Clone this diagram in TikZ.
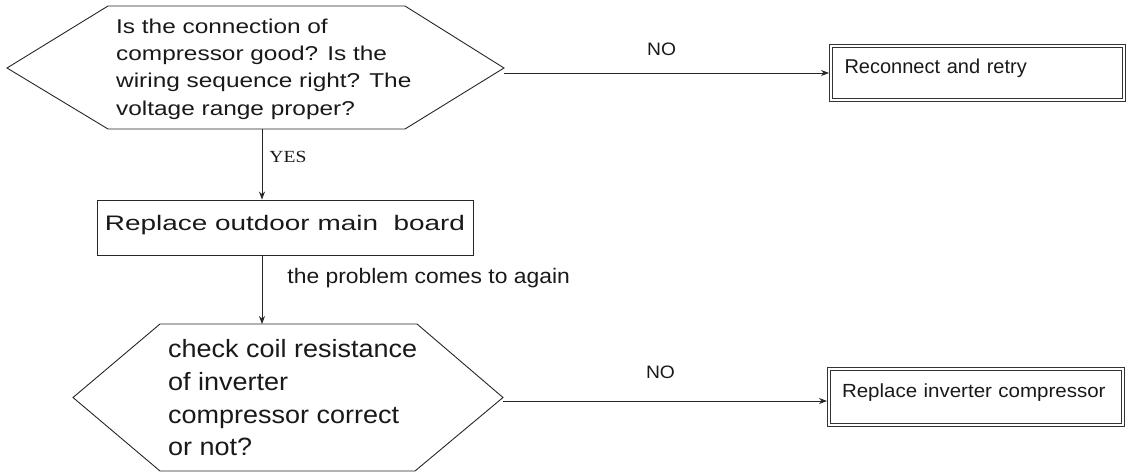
\documentclass[tikz,border=0pt]{standalone}
\usepackage{fontspec}
\setmainfont{Liberation Sans}
\newfontfamily\yesfont{Liberation Serif}
\usetikzlibrary{arrows.meta}
\newcommand\fsz[3]{\fontsize{#1}{#2}\selectfont\addfontfeature{FakeStretch=#3}}
\begin{document}
\begin{tikzpicture}[x=1pt,y=-1pt,
  ink/.style={draw=black!85, line width=0.9pt},
  arr/.style={ink, -{Stealth[length=8pt,width=6pt]}},
  hexa/.style={ink, line join=miter},
  txt/.style={text=black!90, inner sep=0pt},
  dbox/.style={draw=black!80, double, double distance=2.4pt, line width=0.8pt,
    inner ysep=0pt, outer sep=2pt, text height=0pt, text depth=0pt, align=left, text=black!90},
  plainbox/.style={ink, inner sep=0pt, text=black!90}]
\useasboundingbox (0,0) rectangle (1130,472);

% top decision
\coordinate (q1w) at (7,68);
\coordinate (q1e) at (504,68);
\coordinate (q1o) at (504,73);
\coordinate (q1s) at (262,129);
\draw[hexa] (q1w) -- (108,6) -- (405,6) -- (q1e) -- (405,129) -- (108,129) -- cycle;
\node[txt, anchor=north west, align=left, font=\fsz{20}{27.3}{1.22}] (q1t) at (116,18.5)
  {Is the connection of\\compressor good? Is the\\wiring sequence right? The\\voltage range proper?};

% reconnect box
\node[dbox, minimum width=293pt, minimum height=54pt, inner xsep=13.5pt, text width=266pt,
  font=\fsz{20}{24}{1.0}] (recon) at (977.5,73) {Reconnect and retry};

% middle box
\node[plainbox, minimum width=376pt, minimum height=55pt, text height=15pt, text depth=9pt,
  font=\fsz{21}{25}{1.33}] (mid) at (285,227.5) {Replace outdoor main\ \ board};

% bottom decision
\coordinate (q2w) at (73,397.5);
\coordinate (q2e) at (503,397.5);
\coordinate (q2o) at (503,401);
\coordinate (q2n) at (262,324);
\draw[hexa] (q2w) -- (160,324) -- (417,324) -- (q2e) -- (415,471) -- (160,471) -- cycle;
\node[txt, anchor=north west, align=left, font=\fsz{25}{32.7}{1.08}] (q2t) at (168,339.5)
  {check coil resistance\\of inverter\\compressor correct\\or not?};

% inverter box
\node[dbox, minimum width=294pt, minimum height=56pt, inner xsep=13pt, text width=268pt,
  font=\fsz{19}{23}{1.08}] (inv) at (976,397) {Replace inverter compressor};

% connectors
\draw[arr] (q1o) -- (recon.west)
  node[txt, pos=0.485, anchor=south, yshift=17pt, font=\fsz{18}{22}{1.07}] (no1) {NO};
\draw[arr] (q1s) -- (q1s |- mid.north)
  node[txt, pos=0.48, anchor=base west, xshift=7pt, font=\yesfont\fsz{17}{20}{1.15}] (yes) {YES};
\draw[arr] (mid.south -| q1s) -- (q2n)
  node[txt, pos=0.406, anchor=base west, xshift=25pt, font=\fsz{21}{25}{1.09}] (again) {the problem comes to again};
\draw[arr] (q2o) -- (q2o -| inv.west)
  node[txt, pos=0.486, anchor=south, yshift=22pt, font=\fsz{18}{22}{1.07}] (no2) {NO};
\end{tikzpicture}
\end{document}
